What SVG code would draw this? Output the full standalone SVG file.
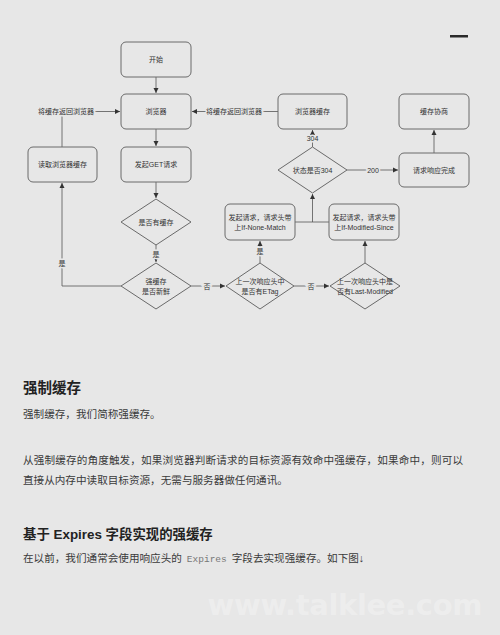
<svg xmlns="http://www.w3.org/2000/svg" width="500" height="635" viewBox="0 0 500 635">
<defs>
<marker id="ah" markerWidth="6" markerHeight="6" refX="5" refY="3" orient="auto" markerUnits="userSpaceOnUse">
<path d="M0,0.5 L5,3 L0,5.5 Z" fill="#333"/>
</marker>
<style>
.n{fill:none;stroke:#6a6a6a;stroke-width:1}
.t{font-family:"Liberation Sans","Noto Sans CJK SC",sans-serif;font-size:7px;fill:#333;text-anchor:middle;dominant-baseline:central}
.e{fill:none;stroke:#555;stroke-width:0.8}
.l{font-family:"Liberation Sans","Noto Sans CJK SC",sans-serif;font-size:7px;fill:#333;text-anchor:middle;dominant-baseline:central;stroke:#e7e7e7;stroke-width:3;paint-order:stroke}
.h{font-family:"Liberation Sans","Noto Sans CJK SC",sans-serif;font-weight:bold;fill:#222}
.p{font-family:"Liberation Sans","Noto Sans CJK SC",sans-serif;font-size:10.6px;fill:#3a3a3a}
</style>
</defs>
<rect width="500" height="635" fill="#e7e7e7"/>
<rect x="450" y="35" width="18" height="2.5" fill="#2a2a2a"/>

<g id="connectors">
<path class="e" d="M156,77 V93" marker-end="url(#ah)"/>
<path class="e" d="M156,129 V146" marker-end="url(#ah)"/>
<path class="e" d="M156,182 V198" marker-end="url(#ah)"/>
<path class="e" d="M156,245 V262" marker-end="url(#ah)"/>
<path class="e" d="M121,286 H62 V183" marker-end="url(#ah)"/>
<path class="e" d="M62,147 V111.5 H120" marker-end="url(#ah)"/>
<path class="e" d="M278,111.5 H192" marker-end="url(#ah)"/>
<path class="e" d="M191,286 H225" marker-end="url(#ah)"/>
<path class="e" d="M260,263 V241" marker-end="url(#ah)"/>
<path class="e" d="M294,286 H329" marker-end="url(#ah)"/>
<path class="e" d="M365,263 V241" marker-end="url(#ah)"/>
<path class="e" d="M295,222 H329"/>
<path class="e" d="M312.5,222 V194" marker-end="url(#ah)"/>
<path class="e" d="M312.5,147 V130" marker-end="url(#ah)"/>
<path class="e" d="M347,170 H398" marker-end="url(#ah)"/>
<path class="e" d="M434,153 V130" marker-end="url(#ah)"/>
<text class="l" x="156" y="254">是</text>
<text class="l" x="62" y="263">是</text>
<text class="l" x="66" y="111.5">将缓存返回浏览器</text>
<text class="l" x="234" y="111.5">将缓存返回浏览器</text>
<text class="l" x="207" y="286">否</text>
<text class="l" x="260" y="251">是</text>
<text class="l" x="311" y="286">否</text>
<text class="l" x="312.5" y="138">304</text>
<text class="l" x="373" y="170">200</text>
</g>

<g id="start"><rect class="n" x="121" y="42" width="70" height="35" rx="5"/><text class="t" x="156" y="59.5">开始</text></g>
<g id="browser"><rect class="n" x="121" y="94" width="70" height="35" rx="5"/><text class="t" x="156" y="111.5">浏览器</text></g>
<g id="get"><rect class="n" x="121" y="147" width="70" height="35" rx="5"/><text class="t" x="156" y="164.5">发起GET请求</text></g>
<g id="readcache"><rect class="n" x="28" y="147" width="69" height="35" rx="5"/><text class="t" x="62.5" y="164.5">读取浏览器缓存</text></g>
<g id="browsercache"><rect class="n" x="278" y="94" width="69" height="35" rx="5"/><text class="t" x="312.5" y="111.5">浏览器缓存</text></g>
<g id="negotiate"><rect class="n" x="399" y="94" width="70" height="35" rx="5"/><text class="t" x="434" y="111.5">缓存协商</text></g>
<g id="done"><rect class="n" x="399" y="153" width="70" height="34" rx="5"/><text class="t" x="434" y="170">请求响应完成</text></g>
<g id="is304"><path class="n" d="M312.5,147 L347,170 L312.5,193 L278,170 Z"/><text class="t" x="312.5" y="170">状态是否304</text></g>
<g id="hascache"><path class="n" d="M156,199 L191,222 L156,245 L121,222 Z"/><text class="t" x="156" y="222">是否有缓存</text></g>
<g id="fresh"><path class="n" d="M156,263 L191,286 L156,309 L121,286 Z"/><text class="t" x="156" y="281.5">强缓存</text><text class="t" x="156" y="291.5">是否新鲜</text></g>
<g id="etag"><path class="n" d="M260,263 L294,286 L260,309 L226,286 Z"/><text class="t" x="260" y="281.5">上一次响应头中</text><text class="t" x="260" y="291.5">是否有ETag</text></g>
<g id="lastmod"><path class="n" d="M365,263 L400,286 L365,309 L330,286 Z"/><text class="t" x="365" y="281.5">上一次响应头中是</text><text class="t" x="365" y="291.5">否有Last-Modified</text></g>
<g id="inm"><rect class="n" x="225" y="204" width="70" height="36" rx="5"/><text class="t" x="260" y="217.5">发起请求，请求头带</text><text class="t" x="260" y="227">上If-None-Match</text></g>
<g id="ims"><rect class="n" x="329" y="204" width="70" height="36" rx="5"/><text class="t" x="364" y="217.5">发起请求，请求头带</text><text class="t" x="364" y="227">上If-Modified-Since</text></g>

<text class="h" x="23" y="393" font-size="14.5">强制缓存</text>
<text class="p" x="23" y="418">强制缓存，我们简称强缓存。</text>
<text class="p" x="23" y="464" textLength="440">从强制缓存的角度触发，如果浏览器判断请求的目标资源有效命中强缓存，如果命中，则可以</text>
<text class="p" x="23" y="484">直接从内存中读取目标资源，无需与服务器做任何通讯。</text>
<text class="h" x="23" y="539" font-size="13.4">基于 Expires 字段实现的强缓存</text>
<text class="p" x="23" y="562">在以前，我们通常会使用响应头的 <tspan font-family="'Liberation Mono',monospace" font-size="9.5" fill="#777" dx="2">Expires</tspan> <tspan dx="2">字段去实现强缓存。如下图↓</tspan></text>
<text x="345" y="615" text-anchor="middle" font-family="'DejaVu Sans',sans-serif" font-size="29" font-weight="bold" fill="#ffffff" fill-opacity="0.28" textLength="275">www.talklee.com</text>
</svg>
